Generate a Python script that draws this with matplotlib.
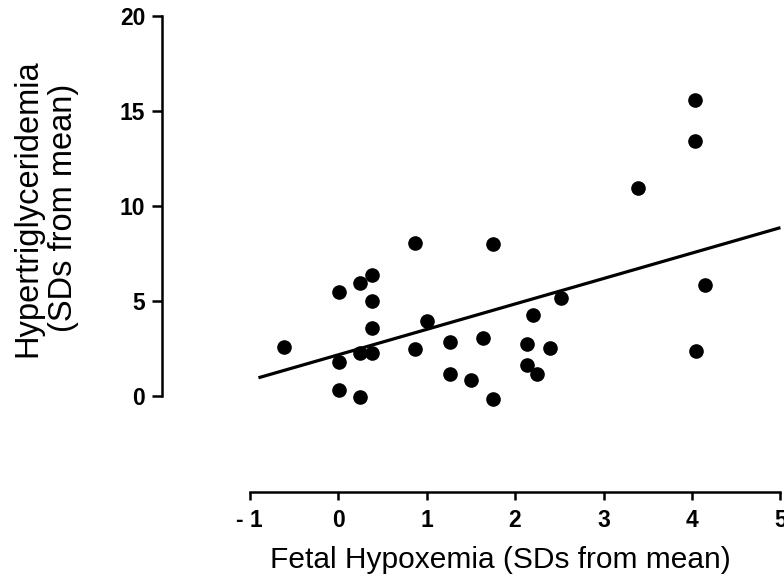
import numpy as np
import matplotlib
matplotlib.use("Agg")
import matplotlib.pyplot as plt

plt.rcParams['font.family'] = ['Liberation Sans', 'DejaVu Sans']

# fetal hypoxemia (x) vs hypertriglyceridemia (y), both in SDs from mean
hypoxemia = [-0.61, 0.01, 0.25, 0.38, 0.38, 0.38, 0.01, 0.25, 0.38, 0.01, 0.25,
             0.87, 1.00, 0.87, 1.75, 1.27, 1.64, 1.27, 1.50, 1.75, 2.13, 2.20,
             2.13, 2.25, 2.52, 2.40, 4.03, 4.03, 3.39, 4.15, 4.05]
triglyc = [2.59, 5.49, 5.96, 6.35, 5.00, 3.56, 1.77, 2.25, 2.25, 0.32, -0.07,
           2.47, 3.93, 8.07, 8.00, 2.86, 3.07, 1.16, 0.84, -0.16, 2.72, 4.26,
           1.63, 1.14, 5.14, 2.51, 15.58, 13.42, 10.93, 5.84, 2.38]

# regression line end points
fit_x = [-0.90, 5.00]
fit_y = [0.96, 8.86]

x_ticks = [-1, 0, 1, 2, 3, 4, 5]
x_labels = ['- 1', '0', '1', '2', '3', '4', '5']
y_ticks = [0, 5, 10, 15, 20]

W, H = 784, 578
fig = plt.figure(figsize=(W / 100, H / 100), dpi=100)
# axes box in pixels: left 162, right 784, top 14, bottom 492
L, R, T, B = 162, 784, 14, 492
ax = fig.add_axes([L / W, 1 - B / H, (R - L) / W, (B - T) / H])

ax.plot(hypoxemia, triglyc, 'o', color='black', ms=9.5, mec='black')
ax.plot(fit_x, fit_y, '-', color='black', lw=2.3, solid_capstyle='butt')

ax.set_xlim(-1.99, 5.04)
ax.set_ylim(-5.05, 20.1)

for s in ['top', 'right']:
    ax.spines[s].set_visible(False)
ax.spines['left'].set_bounds(0, 20)
ax.spines['bottom'].set_bounds(-1, 5)
ax.spines['left'].set_linewidth(1.8)
ax.spines['bottom'].set_linewidth(1.8)

ax.set_xticks(x_ticks)
ax.set_xticklabels(x_labels)
ax.set_yticks(y_ticks)
ax.tick_params(axis='both', direction='out', width=1.8, labelsize=16.5)
ax.tick_params(axis='y', length=7, pad=5)
ax.tick_params(axis='x', length=6, pad=6)
for lab in ax.get_xticklabels() + ax.get_yticklabels():
    lab.set_fontweight('bold')

ax.set_xlabel('Fetal Hypoxemia (SDs from mean)', fontsize=21.5)
ax.xaxis.set_label_coords((500 - L) / (R - L), (B - 546) / (B - T))
ax.set_ylabel('Hypertriglyceridemia\n(SDs from mean)', fontsize=23.5,
              linespacing=1.2)
ax.yaxis.set_label_coords((79 - L) / (R - L), (B - 208) / (B - T))

fig.savefig('out.png', dpi=100)
